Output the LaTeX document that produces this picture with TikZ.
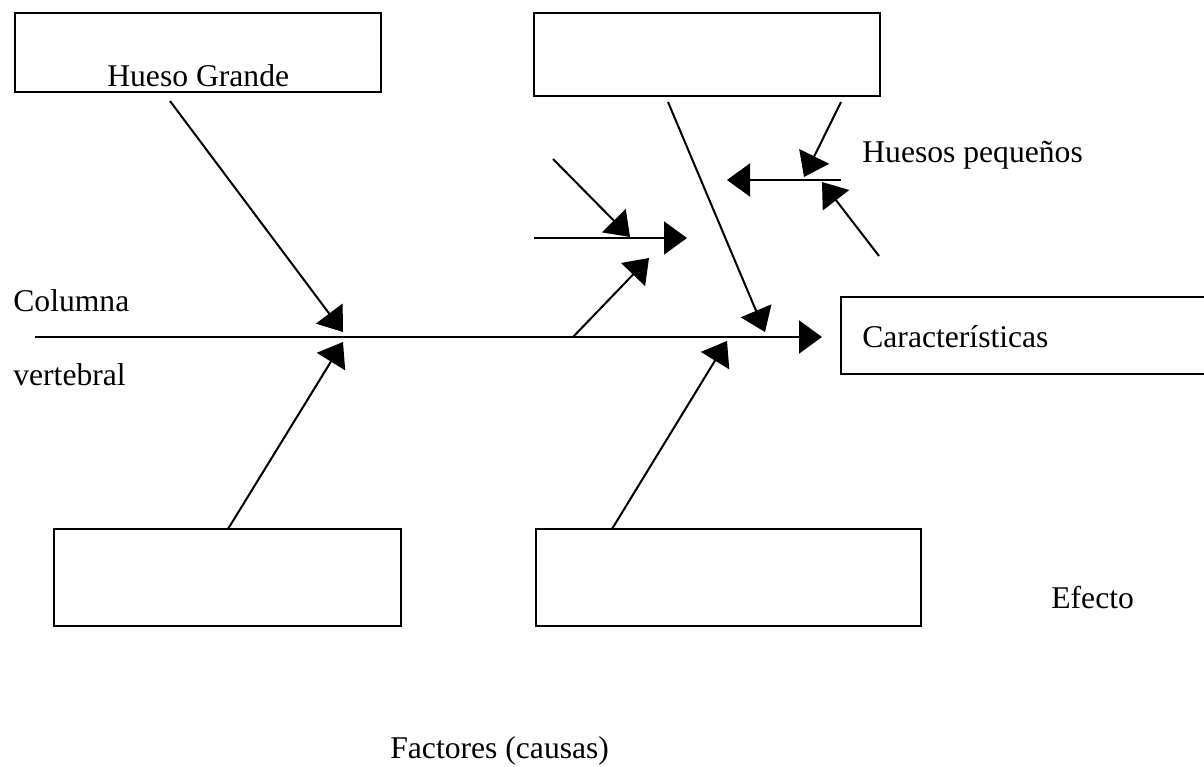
\documentclass[tikz,border=0pt]{standalone}
\usepackage{fontspec}
\setmainfont{Liberation Serif}
\usetikzlibrary{arrows.meta}
\begin{document}
\begin{tikzpicture}[
    x=0.02cm, y=-0.02cm,
    font=\fontsize{18}{22}\selectfont,
    >={Triangle[length=0.46cm,width=0.66cm]},
    hueso/.style={line width=1.15pt},
    caja/.style={
        draw,
        line width=1.15pt,
        inner sep=0pt
    },
    texto/.style={anchor=base west, inner sep=0pt}
]
    \clip (0,0) rectangle (1204,767);

    % cajas
    \node[caja, minimum width=7.32cm, minimum height=1.58cm] (grande) at (198,52.5) {};
    \node[caja, minimum width=6.92cm, minimum height=1.66cm] (arriba) at (707,54.5) {};
    \node[caja, minimum width=6.94cm, minimum height=1.94cm] (abajoizq) at (227.5,577.5) {};
    \node[caja, minimum width=7.7cm, minimum height=1.94cm] (abajoder) at (728.5,577.5) {};
    \node[caja, minimum width=7.6cm, minimum height=1.54cm] (efecto) at (1031,335.5) {};

    % textos
    \node[texto] (tgrande) at (107,87) {Hueso Grande};
    \node[texto] (tcarac) at (862,347) {Características};
    \node[texto] (tpeq) at (862,162) {Huesos pequeños};
    \node[texto] (tcol) at (13,311) {Columna};
    \node[texto] (tvert) at (13,385) {vertebral};
    \node[texto] (tefecto) at (1051,608) {Efecto};
    \node[texto] (tfact) at (390,758) {Factores (causas)};

    % espina
    \coordinate (cola) at (35,337);
    \coordinate (cabeza) at (822,337);
    \draw[->,hueso] (cola) -- (cabeza);

    % huesos grandes
    \coordinate (g1) at (170,101);
    \coordinate (e1) at (343,332);
    \coordinate (g2) at (228,529);
    \coordinate (e2) at (343,342);
    \coordinate (g3) at (668,102);
    \coordinate (e3) at (765,332);
    \coordinate (g4) at (612,529);
    \coordinate (e4) at (727,341);
    \draw[->,hueso] (g1) -- (e1);
    \draw[->,hueso] (g2) -- (e2);
    \draw[->,hueso] (g3) -- (e3);
    \draw[->,hueso] (g4) -- (e4);

    % huesos pequeños izquierda
    \coordinate (p1) at (534,238);
    \coordinate (q1) at (687,238);
    \coordinate (p2) at (553,159);
    \coordinate (q2) at (630,237);
    \coordinate (p3) at (573,337);
    \coordinate (q3) at (649,258);
    \draw[->,hueso] (p1) -- (q1);
    \draw[->,hueso] (p2) -- (q2);
    \draw[->,hueso] (p3) -- (q3);

    % huesos pequeños derecha
    \coordinate (p4) at (841,180);
    \coordinate (q4) at (727,180);
    \coordinate (p5) at (841,102);
    \coordinate (q5) at (804,177);
    \coordinate (p6) at (879,256);
    \coordinate (q6) at (822,182);
    \draw[->,hueso] (p4) -- (q4);
    \draw[->,hueso] (p5) -- (q5);
    \draw[->,hueso] (p6) -- (q6);
\end{tikzpicture}
\end{document}
